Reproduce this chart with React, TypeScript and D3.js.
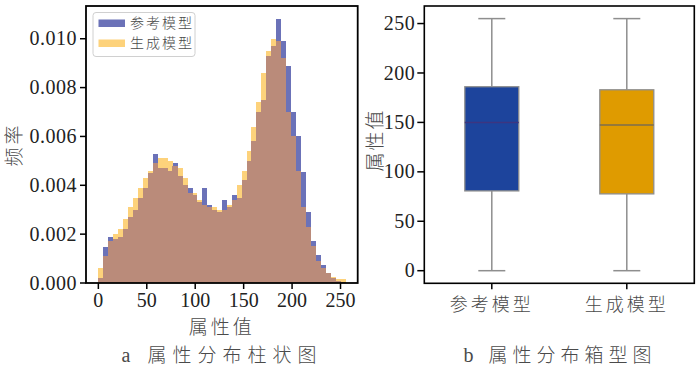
import React from "react";
import * as d3 from "d3";

// Histogram densities (50 bins, 0..255)
const refDensity = [
  0.0002, 0.00148, 0.0019, 0.0018, 0.0019, 0.0022, 0.0027, 0.003, 0.0035, 0.0039,
  0.0045, 0.0053, 0.0047, 0.0047, 0.0046, 0.0049, 0.0044, 0.004, 0.0039, 0.0036,
  0.0033, 0.0039, 0.0032, 0.003, 0.0029, 0.0034, 0.0031, 0.0036, 0.0035, 0.0042,
  0.005, 0.0058, 0.007, 0.0075, 0.0093, 0.0097, 0.0108, 0.0099, 0.0089, 0.007,
  0.006, 0.00455, 0.0029, 0.0017, 0.00115, 0.00074, 0.0004, 0.0002, 0.0001, 0.00005,
];
const genDensity = [
  0.0006, 0.0011, 0.0017, 0.002, 0.0022, 0.0026, 0.0031, 0.0035, 0.0039, 0.0043,
  0.0046, 0.0049, 0.0051, 0.0051, 0.005, 0.0048, 0.0047, 0.0043, 0.0037, 0.0037,
  0.0034, 0.0032, 0.0031, 0.0031, 0.003, 0.003, 0.0032, 0.0034, 0.004, 0.0046,
  0.0054, 0.0064, 0.0074, 0.0086, 0.0095, 0.01, 0.0099, 0.0092, 0.007, 0.006,
  0.0046, 0.0031, 0.0023, 0.0015, 0.0009, 0.0006, 0.0004, 0.00025, 0.00015, 0.00015,
];
const binMin = 0;
const binMax = 255;
const histXTicks = [0, 50, 100, 150, 200, 250];
const histYTicks = [0, 0.002, 0.004, 0.006, 0.008, 0.01];

// Box plot stats
const boxCategories = ["参考模型", "生成模型"];
const boxMin = [0, 0];
const boxQ1 = [80.7, 77.7];
const boxMedian = [150, 147.3];
const boxQ3 = [186.1, 183];
const boxMax = [255, 255];
const boxYTicks = [0, 50, 100, 150, 200, 250];

const legendLabels = ["参考模型", "生成模型"];

const BLUE = "#6b72b8";
const YELLOW = "#fdd27b";
const BROWN = "#ba8b7a";
const BOX_FILL = ["#1d449c", "#df9b00"];
const MEDIAN = ["#3d3580", "#7d6e4e"];
const GRAY = "#8e8e8e";
const TXT = "#4a4a4a";

const NUM_FONT = "'Liberation Serif', 'Times New Roman', serif";
const CJK_FONT = "'Noto Sans CJK SC', sans-serif";

export default function App() {
  // ---------- left histogram ----------
  const L = { x0: 86, x1: 357.7, y0: 6, y1: 283 };
  const nb = refDensity.length;
  const bw = (binMax - binMin) / nb;
  const span = binMax - binMin;
  const hx = d3
    .scaleLinear()
    .domain([binMin - span * 0.05, binMax + span * 0.05])
    .range([L.x0, L.x1]);
  const ymaxH = Math.max(d3.max(refDensity)!, d3.max(genDensity)!) * 1.05;
  const hy = d3.scaleLinear().domain([0, ymaxH]).range([L.y1, L.y0]);

  const bars = refDensity.map((r, i) => {
    const g = genDensity[i];
    const xa = hx(binMin + i * bw);
    const xb = hx(binMin + (i + 1) * bw);
    return { i, xa, w: xb - xa, r, g, m: Math.min(r, g) };
  });

  // ---------- right box plot ----------
  const R = { x0: 424.3, x1: 694.3, y0: 6, y1: 283.3 };
  const bx = d3.scaleLinear().domain([0.5, 2.5]).range([R.x0, R.x1]);
  const by = d3.scaleLinear().domain([-12.75, 267.75]).range([R.y1, R.y0]);
  const boxW = 0.4;
  const capW = 0.2;

  return (
    <svg width={700} height={367} style={{ position: "absolute", left: 0, top: 0 }}>
      <rect x={0} y={0} width={700} height={367} fill="#fff" />
      {/* histogram bars */}
      <g shapeRendering="crispEdges">
        {bars.map((b) => (
          <rect key={"r" + b.i} x={b.xa} y={hy(b.r)} width={b.w + 0.3} height={hy(0) - hy(b.r)} fill={BLUE} />
        ))}
        {bars.map((b) => (
          <rect key={"g" + b.i} x={b.xa} y={hy(b.g)} width={b.w + 0.3} height={hy(0) - hy(b.g)} fill={YELLOW} />
        ))}
        {bars.map((b) => (
          <rect key={"m" + b.i} x={b.xa} y={hy(b.m)} width={b.w + 0.3} height={hy(0) - hy(b.m)} fill={BROWN} />
        ))}
      </g>
      {/* histogram frame */}
      <rect x={L.x0} y={L.y0} width={L.x1 - L.x0} height={L.y1 - L.y0} fill="none" stroke="#000" strokeWidth={1.8} />
      {/* y ticks */}
      {histYTicks.map((t) => (
        <g key={"hy" + t}>
          <line x1={L.x0 - 6} x2={L.x0} y1={hy(t)} y2={hy(t)} stroke="#000" strokeWidth={1.5} />
          <text x={L.x0 - 9} y={hy(t)} dy="0.33em" textAnchor="end" fontFamily={NUM_FONT} fontSize={20} fill="#222" letterSpacing={0.5}>
            {d3.format(".3f")(t)}
          </text>
        </g>
      ))}
      {/* x ticks */}
      {histXTicks.map((t) => (
        <g key={"hx" + t}>
          <line x1={hx(t)} x2={hx(t)} y1={L.y1} y2={L.y1 + 6} stroke="#000" strokeWidth={1.5} />
          <text x={hx(t)} y={307} textAnchor="middle" fontFamily={NUM_FONT} fontSize={20} fill="#222">
            {t}
          </text>
        </g>
      ))}
      <text
        transform={`translate(14,${(L.y0 + L.y1) / 2}) rotate(-90)`}
        textAnchor="middle"
        dy="0.35em"
        fontFamily={CJK_FONT}
        fontWeight={300}
        fontSize={19}
        fill={TXT}
        letterSpacing={3}
      >
        频率
      </text>
      <text x={(L.x0 + L.x1) / 2} y={334} textAnchor="middle" fontFamily={CJK_FONT} fontWeight={300} fontSize={19} fill={TXT} letterSpacing={3}>
        属性值
      </text>
      <text x={222} y={362} textAnchor="middle" fontSize={20} fill={TXT} letterSpacing={6}>
        <tspan fontFamily={NUM_FONT}>a </tspan>
        <tspan fontFamily={CJK_FONT} fontWeight={300} fontSize={19}>属性分布柱状图</tspan>
      </text>
      {/* legend */}
      <rect x={93} y={12.5} width={102} height={44} rx={3} fill="#fff" fillOpacity={0.85} stroke="#d0d0d0" strokeWidth={1} />
      {legendLabels.map((lab, i) => (
        <g key={lab}>
          <rect x={98.5} y={19.5 + i * 20} width={26.5} height={7.5} fill={i === 0 ? BLUE : YELLOW} />
          <text x={130} y={23.3 + i * 20} dy="0.35em" fontFamily={CJK_FONT} fontWeight={300} fontSize={14} fill={TXT} letterSpacing={2}>
            {lab}
          </text>
        </g>
      ))}

      {/* ---------- box plot ---------- */}
      {boxCategories.map((c, i) => {
        const cx = bx(i + 1);
        const xl = bx(i + 1 - boxW / 2);
        const xr = bx(i + 1 + boxW / 2);
        const cl = bx(i + 1 - capW / 2);
        const cr = bx(i + 1 + capW / 2);
        return (
          <g key={c}>
            <line x1={cx} x2={cx} y1={by(boxQ3[i])} y2={by(boxMax[i])} stroke={GRAY} strokeWidth={1.5} />
            <line x1={cx} x2={cx} y1={by(boxQ1[i])} y2={by(boxMin[i])} stroke={GRAY} strokeWidth={1.5} />
            <line x1={cl} x2={cr} y1={by(boxMax[i])} y2={by(boxMax[i])} stroke={GRAY} strokeWidth={1.5} />
            <line x1={cl} x2={cr} y1={by(boxMin[i])} y2={by(boxMin[i])} stroke={GRAY} strokeWidth={1.5} />
            <rect x={xl} y={by(boxQ3[i])} width={xr - xl} height={by(boxQ1[i]) - by(boxQ3[i])} fill={BOX_FILL[i]} stroke={GRAY} strokeWidth={1.3} />
            <line x1={xl} x2={xr} y1={by(boxMedian[i])} y2={by(boxMedian[i])} stroke={MEDIAN[i]} strokeWidth={1.5} />
            <line x1={cx} x2={cx} y1={R.y1} y2={R.y1 + 6} stroke="#000" strokeWidth={1.5} />
            <text x={cx} y={305} dy="0.35em" textAnchor="middle" fontFamily={CJK_FONT} fontWeight={300} fontSize={18} fill={TXT} letterSpacing={3}>
              {c}
            </text>
          </g>
        );
      })}
      <rect x={R.x0} y={R.y0} width={R.x1 - R.x0} height={R.y1 - R.y0} fill="none" stroke="#000" strokeWidth={1.6} />
      {boxYTicks.map((t) => (
        <g key={"by" + t}>
          <line x1={R.x0 - 7} x2={R.x0} y1={by(t)} y2={by(t)} stroke="#000" strokeWidth={1.5} />
          <text x={R.x0 - 9} y={by(t)} dy="0.33em" textAnchor="end" fontFamily={NUM_FONT} fontSize={20} fill="#222" letterSpacing={0.5}>
            {t}
          </text>
        </g>
      ))}
      <text
        transform={`translate(375,140) rotate(-90)`}
        textAnchor="middle"
        dy="0.35em"
        fontFamily={CJK_FONT}
        fontWeight={300}
        fontSize={19}
        fill={TXT}
        letterSpacing={2}
      >
        属性值
      </text>
      <text x={560} y={362} textAnchor="middle" fontSize={20} fill={TXT} letterSpacing={5}>
        <tspan fontFamily={NUM_FONT}>b </tspan>
        <tspan fontFamily={CJK_FONT} fontWeight={300} fontSize={19}>属性分布箱型图</tspan>
      </text>
    </svg>
  );
}
